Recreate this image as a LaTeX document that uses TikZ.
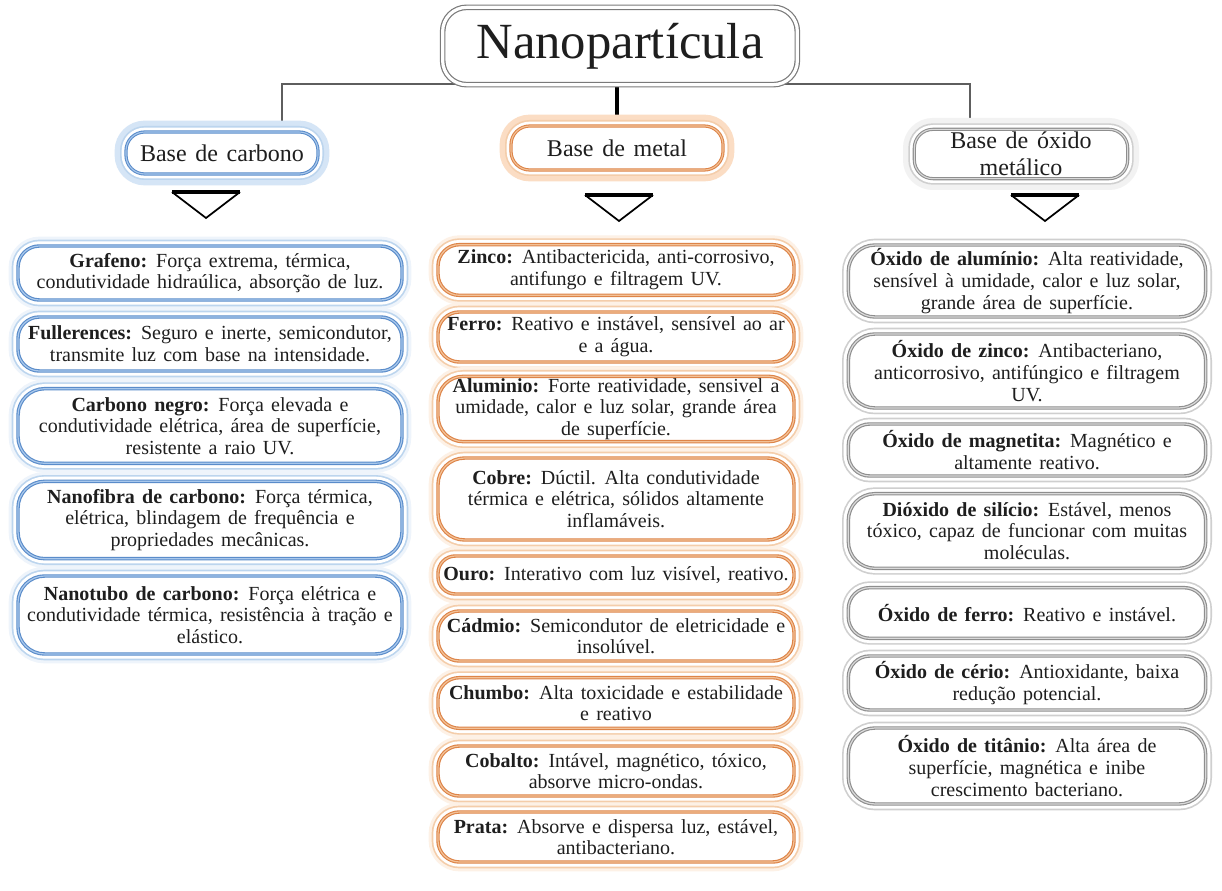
\documentclass[tikz,border=0pt]{standalone}
\usepackage{fontspec}
\setmainfont{Liberation Serif}[WordSpace=1.45]
\usetikzlibrary{calc,backgrounds}
\definecolor{txt}{HTML}{1E1E1E}
\definecolor{bluemain}{HTML}{5A8CCA}
\definecolor{bluelight}{HTML}{A9C8EC}
\definecolor{bluepale}{HTML}{BCD5EE}
\definecolor{bluehalo}{HTML}{EEF4FB}
\definecolor{bluecat}{HTML}{D5E5F6}
\definecolor{orgmain}{HTML}{DD8448}
\definecolor{orglight}{HTML}{F3C298}
\definecolor{orgpale}{HTML}{F4CDAA}
\definecolor{orghalo}{HTML}{FDF1E6}
\definecolor{orgcat}{HTML}{FBDDC4}
\definecolor{graymain}{HTML}{8E8E8E}
\definecolor{graylight}{HTML}{DADADA}
\definecolor{graypale}{HTML}{CFCFCF}
\definecolor{grayhalo}{HTML}{FFFFFF}
\definecolor{graycat}{HTML}{F2F2F2}
\definecolor{titlegray}{HTML}{7A7A7A}
\definecolor{linegray}{HTML}{5E5E5E}
\newcommand\myBody{\fontsize{15pt}{16.2pt}\selectfont}
\newcommand\myCat{\fontsize{18pt}{20.2pt}\selectfont}
\newcommand\myTitle{\fontsize{38pt}{42pt}\selectfont}
\tikzset{
  cbox/.style={rounded corners=16pt, inner sep=0pt, align=center, fill=white,
    text=txt, font=\myBody,
    preaction={draw=#1halo, line width=14pt},
    preaction={draw=#1pale, line width=9.5pt},
    preaction={draw=white, line width=7pt},
    draw=#1main, line width=2.6pt,
    postaction={draw=#1light, line width=0.9pt}},
  catbox/.style={rounded corners=14pt, inner sep=0pt, align=center, fill=white,
    text=txt, font=\myCat,
    preaction={draw=#1cat, line width=17pt},
    preaction={draw=#1pale, line width=9pt},
    preaction={draw=white, line width=6.5pt},
    draw=#1main, line width=2.4pt,
    postaction={draw=#1light, line width=0.8pt}},
  titlebox/.style={rounded corners=18pt, inner sep=0pt, align=center, fill=white,
    text=txt, font=\myTitle, draw=titlegray, double=white, double distance=2.4pt,
    line width=0.9pt, minimum width=266pt, minimum height=58pt},
  hline/.style={draw=linegray, line width=1.6pt},
  vline/.style={draw=black, line width=3pt},
  tri/.style={draw=black, line width=1.3pt, line join=miter},
  tritop/.style={draw=black, line width=2.4pt},
}
\begin{document}
\begin{tikzpicture}[x=0.75pt,y=-0.75pt]
\useasboundingbox (0,0) rectangle (1222,891);
% title and categories
\node[titlebox] (title) at (620,46) {Nanopartícula};
\node[catbox=blue, minimum width=144pt, minimum height=31.5pt] (cat1) at (222,153) {Base de carbono};
\node[catbox=org, minimum width=159pt, minimum height=33pt] (cat2) at (617,148) {Base de metal};
\node[catbox=gray, minimum width=160pt, minimum height=37pt] (cat3) at (1021,154) {Base de óxido\\metálico};
% left column
\node[cbox=blue, minimum width=288pt, minimum height=40.5pt] (l1) at (210,273)
 {\textbf{Grafeno:} Força extrema, térmica,\\condutividade hidraúlica, absorção de luz.};
\node[cbox=blue, minimum width=288pt, minimum height=40.5pt] (l2) at (210,344)
 {\textbf{Fullerences:} Seguro e inerte, semicondutor,\\transmite luz com base na intensidade.};
\node[cbox=blue, minimum width=288pt, minimum height=56pt, rounded corners=20pt] (l3) at (210,426)
 {\textbf{Carbono negro:} Força elevada e\\condutividade elétrica, área de superfície,\\resistente a raio UV.};
\node[cbox=blue, minimum width=288pt, minimum height=58pt, rounded corners=20pt] (l4) at (210,520)
 {\textbf{Nanofibra de carbono:} Força térmica,\\elétrica, blindagem de frequência e\\propriedades mecânicas.};
\node[cbox=blue, minimum width=288pt, minimum height=58.5pt, rounded corners=20pt] (l5) at (210,615)
 {\textbf{Nanotubo de carbono:} Força elétrica e\\condutividade térmica, resistência à tração e\\elástico.};
% middle column
\node[cbox=org, minimum width=267pt, minimum height=38pt] (m1) at (616,270)
 {\textbf{Zinco:} Antibactericida, anti-corrosivo,\\antifungo e filtragem UV.};
\node[cbox=org, minimum width=267pt, minimum height=37.5pt] (m2) at (616,337)
 {\textbf{Ferro:} Reativo e instável, sensível ao ar\\e a água.};
\node[cbox=org, minimum width=267pt, minimum height=49pt, rounded corners=19pt] (m3) at (616,409)
 {\textbf{Aluminio:} Forte reatividade, sensivel a\\umidade, calor e luz solar, grande área\\de superfície.};
\node[cbox=org, minimum width=267pt, minimum height=61.5pt, rounded corners=20pt] (m4) at (616,499)
 {\textbf{Cobre:} Dúctil. Alta condutividade\\térmica e elétrica, sólidos altamente\\inflamáveis.};
\node[cbox=org, minimum width=267pt, minimum height=28.5pt, rounded corners=13pt] (m5) at (616,575)
 {\textbf{Ouro:} Interativo com luz visível, reativo.};
\node[cbox=org, minimum width=267pt, minimum height=37.5pt] (m6) at (616,636)
 {\textbf{Cádmio:} Semicondutor de eletricidade e\\insolúvel.};
\node[cbox=org, minimum width=267pt, minimum height=38pt] (m7) at (616,703)
 {\textbf{Chumbo:} Alta toxicidade e estabilidade\\e reativo};
\node[cbox=org, minimum width=267pt, minimum height=37.5pt] (m8) at (616,771)
 {\textbf{Cobalto:} Intável, magnético, tóxico,\\absorve micro-ondas.};
\node[cbox=org, minimum width=267pt, minimum height=37.5pt] (m9) at (616,837)
 {\textbf{Prata:} Absorve e dispersa luz, estável,\\antibacteriano.};
% right column
\node[cbox=gray, minimum width=268pt, minimum height=54pt, rounded corners=20pt] (r1) at (1027,281)
 {\textbf{Óxido de alumínio:} Alta reatividade,\\sensível à umidade, calor e luz solar,\\grande área de superfície.};
\node[cbox=gray, minimum width=268pt, minimum height=55.5pt, rounded corners=20pt] (r2) at (1027,371)
 {\textbf{Óxido de zinco:} Antibacteriano,\\anticorrosivo, antifúngico e filtragem\\UV.};
\node[cbox=gray, minimum width=268pt, minimum height=39pt] (r3) at (1027,450)
 {\textbf{Óxido de magnetita:} Magnético e\\altamente reativo.};
\node[cbox=gray, minimum width=268pt, minimum height=56pt, rounded corners=20pt] (r4) at (1027,531)
 {\textbf{Dióxido de silício:} Estável, menos\\tóxico, capaz de funcionar com muitas\\moléculas.};
\node[cbox=gray, minimum width=268pt, minimum height=38pt] (r5) at (1027,613)
 {\textbf{Óxido de ferro:} Reativo e instável.};
\node[cbox=gray, minimum width=268pt, minimum height=40.5pt] (r6) at (1027,683)
 {\textbf{Óxido de cério:} Antioxidante, baixa\\redução potencial.};
\node[cbox=gray, minimum width=268pt, minimum height=57pt, rounded corners=20pt] (r7) at (1027,766)
 {\textbf{Óxido de titânio:} Alta área de\\superfície, magnética e inibe\\crescimento bacteriano.};
% triangles
\coordinate (t1) at (206,192);
\coordinate (t2) at (619,195);
\coordinate (t3) at (1045,195);
\foreach \t in {t1,t2,t3}{
  \draw[tri] ($(\t)+(-34,0)$) -- ($(\t)+(0,26)$) -- ($(\t)+(34,0)$);
  \draw[tritop] ($(\t)+(-34,0)$) -- ($(\t)+(34,0)$);
}
% connectors (behind)
\coordinate (hl) at (282,84);
\coordinate (hr) at (970,84);
\begin{pgfonlayer}{background}
\fill[white] (0,0) rectangle (1222,891);
\draw[hline] (hl |- cat1.north) -- (hl) -- (hr) -- (hr |- cat3.north);
\draw[vline] (cat2.north |- title.south) -- (cat2.north);
\end{pgfonlayer}
\end{tikzpicture}
\end{document}
